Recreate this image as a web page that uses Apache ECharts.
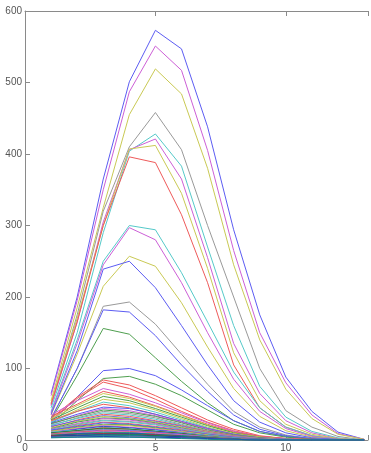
<!DOCTYPE html>
<html><head><meta charset="utf-8">
<script src="https://cdn.jsdelivr.net/npm/echarts@6/dist/echarts.min.js"></script>
<style>html,body{margin:0;padding:0;background:#fff}#c{width:371px;height:453px}</style>
</head><body><div id="c"></div>
<script>
// x positions
const xValues = [1, 2, 3, 4, 5, 6, 7, 8, 9, 10, 11, 12, 13];
const xTicks = [0, 5, 10];
const yTicks = [0, 100, 200, 300, 400, 500, 600];

// large curves
const big01 = [65, 200, 365, 501, 573, 547, 438, 294, 175, 88, 40, 11, 1];
const big02 = [62, 195, 350, 487, 551, 517, 405, 265, 150, 80, 35, 9, 1];
const big03 = [55, 185, 325, 455, 519, 484, 380, 245, 140, 71, 30, 8, 1];
const big04 = [50, 175, 320, 410, 458, 406, 300, 200, 100, 41, 18, 5, 0];
const big05 = [45, 150, 290, 404, 428, 383, 270, 160, 75, 32, 12, 3, 0];
const big06 = [48, 165, 305, 406, 421, 365, 255, 135, 65, 27, 10, 2, 0];
const big07 = [52, 170, 300, 407, 412, 345, 240, 122, 55, 22, 8, 2, 0];
const big08 = [50, 165, 300, 396, 388, 315, 220, 105, 45, 18, 6, 1, 0];
// middle curves
const mid01 = [40, 140, 250, 300, 294, 234, 165, 95, 45, 18, 6, 1, 0];
const mid02 = [38, 135, 245, 297, 280, 220, 150, 85, 40, 16, 5, 1, 0];
const mid03 = [35, 120, 215, 257, 243, 192, 130, 72, 33, 13, 4, 1, 0];
const mid04 = [36, 125, 239, 250, 213, 160, 105, 55, 25, 10, 3, 1, 0];
const mid05 = [30, 100, 187, 193, 162, 120, 78, 40, 18, 7, 2, 0, 0];
const mid06 = [30, 100, 182, 179, 146, 105, 68, 35, 15, 6, 2, 0, 0];
const mid07 = [28, 90, 156, 148, 115, 82, 52, 27, 12, 5, 1, 0, 0];
const mid08 = [25, 60, 97, 100, 90, 70, 48, 27, 12, 5, 1, 0, 0];
const mid09 = [22, 55, 86, 89, 78, 62, 42, 22, 10, 4, 1, 0, 0];
const mid10 = [30, 60, 84, 77, 62, 45, 28, 15, 6, 2, 1, 0, 0];
const mid11 = [28, 58, 81, 72, 57, 40, 25, 13, 5, 2, 0, 0, 0];
// small curves
const low01 = [35, 55, 72, 64, 52, 38, 24, 12, 5, 2, 0, 0, 0];
const low02 = [33, 50, 68, 60, 48, 35, 22, 11, 5, 2, 0, 0, 0];
const low03 = [30, 48, 65, 58, 47, 34, 21, 10, 4, 1, 0, 0, 0];
const low04 = [28, 45, 61, 55, 44, 32, 20, 10, 4, 1, 0, 0, 0];
const low05 = [26, 42, 57, 52, 42, 30, 18, 9, 4, 1, 0, 0, 0];
const low06 = [25, 40, 53, 48, 39, 28, 17, 8, 3, 1, 0, 0, 0];
const low07 = [27, 40, 50, 45, 36, 26, 16, 8, 3, 1, 0, 0, 0];
const low08 = [24, 36, 46, 44, 36, 26, 16, 8, 3, 1, 0, 0, 0];
const low09 = [22, 34, 44, 41, 34, 25, 15, 7, 3, 1, 0, 0, 0];
const low10 = [23, 33, 42, 39, 33, 24, 14, 7, 3, 1, 0, 0, 0];
const low11 = [20, 31, 40, 37, 31, 22, 13, 6, 2, 1, 0, 0, 0];
const low12 = [21, 30, 38, 35, 29, 21, 12, 6, 2, 1, 0, 0, 0];
const low13 = [18, 28, 36, 33, 27, 20, 12, 6, 2, 1, 0, 0, 0];
const low14 = [19, 27, 34, 31, 26, 19, 11, 5, 2, 1, 0, 0, 0];
const low15 = [17, 26, 33, 30, 25, 18, 11, 5, 2, 0, 0, 0, 0];
const low16 = [16, 25, 31, 29, 24, 17, 10, 5, 2, 0, 0, 0, 0];
const low17 = [15, 23, 30, 28, 23, 16, 10, 5, 2, 0, 0, 0, 0];
const low18 = [16, 22, 28, 26, 22, 15, 9, 4, 2, 0, 0, 0, 0];
const low19 = [14, 21, 27, 25, 21, 15, 9, 4, 1, 0, 0, 0, 0];
const low20 = [13, 20, 25, 23, 19, 14, 8, 4, 1, 0, 0, 0, 0];
const low21 = [14, 19, 24, 22, 18, 13, 8, 4, 1, 0, 0, 0, 0];
const low22 = [12, 18, 22, 21, 17, 12, 7, 3, 1, 0, 0, 0, 0];
const low23 = [12, 17, 21, 20, 16, 12, 7, 3, 1, 0, 0, 0, 0];
const low24 = [11, 16, 20, 18, 15, 11, 6, 3, 1, 0, 0, 0, 0];
const low25 = [10, 15, 19, 17, 14, 10, 6, 3, 1, 0, 0, 0, 0];
const low26 = [11, 14, 18, 16, 13, 10, 6, 3, 1, 0, 0, 0, 0];
const low27 = [9, 13, 17, 15, 12, 9, 5, 2, 1, 0, 0, 0, 0];
const low28 = [10, 13, 16, 15, 12, 9, 5, 2, 1, 0, 0, 0, 0];
const low29 = [9, 12, 15, 14, 11, 8, 5, 2, 1, 0, 0, 0, 0];
const low30 = [8, 11, 14, 13, 11, 8, 4, 2, 1, 0, 0, 0, 0];
const low31 = [8, 11, 13, 12, 10, 7, 4, 2, 0, 0, 0, 0, 0];
const low32 = [7, 10, 12, 11, 9, 7, 4, 2, 0, 0, 0, 0, 0];
const low33 = [7, 9, 11, 10, 8, 6, 4, 2, 0, 0, 0, 0, 0];
const low34 = [6, 9, 10, 10, 8, 6, 3, 1, 0, 0, 0, 0, 0];
const low35 = [6, 8, 9, 9, 7, 5, 3, 1, 0, 0, 0, 0, 0];
const low36 = [6, 7, 9, 8, 7, 5, 3, 1, 0, 0, 0, 0, 0];
const low37 = [5, 7, 8, 8, 6, 5, 3, 1, 0, 0, 0, 0, 0];
const low38 = [5, 6, 7, 7, 6, 4, 2, 1, 0, 0, 0, 0, 0];
const low39 = [5, 6, 7, 6, 5, 4, 2, 1, 0, 0, 0, 0, 0];
const low40 = [4, 5, 6, 6, 5, 3, 2, 1, 0, 0, 0, 0, 0];
const low41 = [4, 5, 5, 5, 4, 3, 2, 1, 0, 0, 0, 0, 0];
const low42 = [4, 4, 5, 4, 4, 3, 2, 1, 0, 0, 0, 0, 0];
const low43 = [3, 4, 4, 4, 3, 2, 1, 0, 0, 0, 0, 0, 0];

const allLines = [big01, big02, big03, big04, big05, big06, big07, big08,
  mid01, mid02, mid03, mid04, mid05, mid06, mid07, mid08, mid09, mid10, mid11,
  low01, low02, low03, low04, low05, low06, low07, low08, low09, low10,
  low11, low12, low13, low14, low15, low16, low17, low18, low19, low20,
  low21, low22, low23, low24, low25, low26, low27, low28, low29, low30,
  low31, low32, low33, low34, low35, low36, low37, low38, low39, low40,
  low41, low42, low43];

// styles (separate from data)
const C = {b:'#5c5cf2', g:'#4f9f4f', r:'#ee5a5a', c:'#55c9c9', m:'#cc5fd6', y:'#c9c954', k:'#999999',
           db:'#2030c0', dg:'#1c7a30', tl:'#168a8a', dr:'#c02828'};
const lineColors = ['b','m','y','k','c','m','y','r',
  'c','m','y','b','k','b','g','b','g','r','r',
  'm','r','y','g','y','c','r','b','m','g',
  'k','c','r','b','y','g','m','k','c','r',
  'b','g','y','m','db','c','dr','dg','k','b',
  'r','m','g','tl','db','dr','tl','dg','db','tl',
  'k','db','tl'];

const series = allLines.map((vals, i) => ({
  type: 'line',
  data: xValues.map((x, j) => [x, vals[j]]),
  showSymbol: false,
  symbol: 'none',
  lineStyle: { width: 1, color: C[lineColors[i]] },
  silent: true,
  z: 2
}));

const axisCommon = {
  type: 'value', min: 0, max: 13.15, interval: 5,
  axisLine: { show: true, onZero: false, lineStyle: { color: '#8a8a8a', width: 1 } },
  axisTick: { show: true, inside: true, length: 5, lineStyle: { color: '#8a8a8a' } },
  splitLine: { show: false }
};

const chart = echarts.init(document.getElementById('c'), null, { renderer: 'canvas' });
chart.setOption({
  animation: false,
  grid: { left: 25, right: 0, top: 11, bottom: 12, containLabel: false },
  xAxis: [
    Object.assign({}, axisCommon, {
      position: 'bottom',
      axisLabel: { show: true, color: '#555', fontSize: 10, fontFamily: 'Liberation Sans, Arial, sans-serif', margin: 3,
        formatter: v => (xTicks.indexOf(v) >= 0 ? String(v) : '') }
    }),
    Object.assign({}, axisCommon, { position: 'top', axisLabel: { show: false } })
  ],
  yAxis: {
    type: 'value', min: 0, max: 600, interval: 100,
    axisLine: { show: true, onZero: false, lineStyle: { color: '#8a8a8a', width: 1 } },
    axisTick: { show: true, inside: true, length: 5, lineStyle: { color: '#8a8a8a' } },
    splitLine: { show: false },
    axisLabel: { color: '#555', fontSize: 10, fontFamily: 'Liberation Sans, Arial, sans-serif', margin: 3,
      formatter: v => (yTicks.indexOf(v) >= 0 ? String(v) : '') }
  },
  series: series
});
</script>
</body></html>
